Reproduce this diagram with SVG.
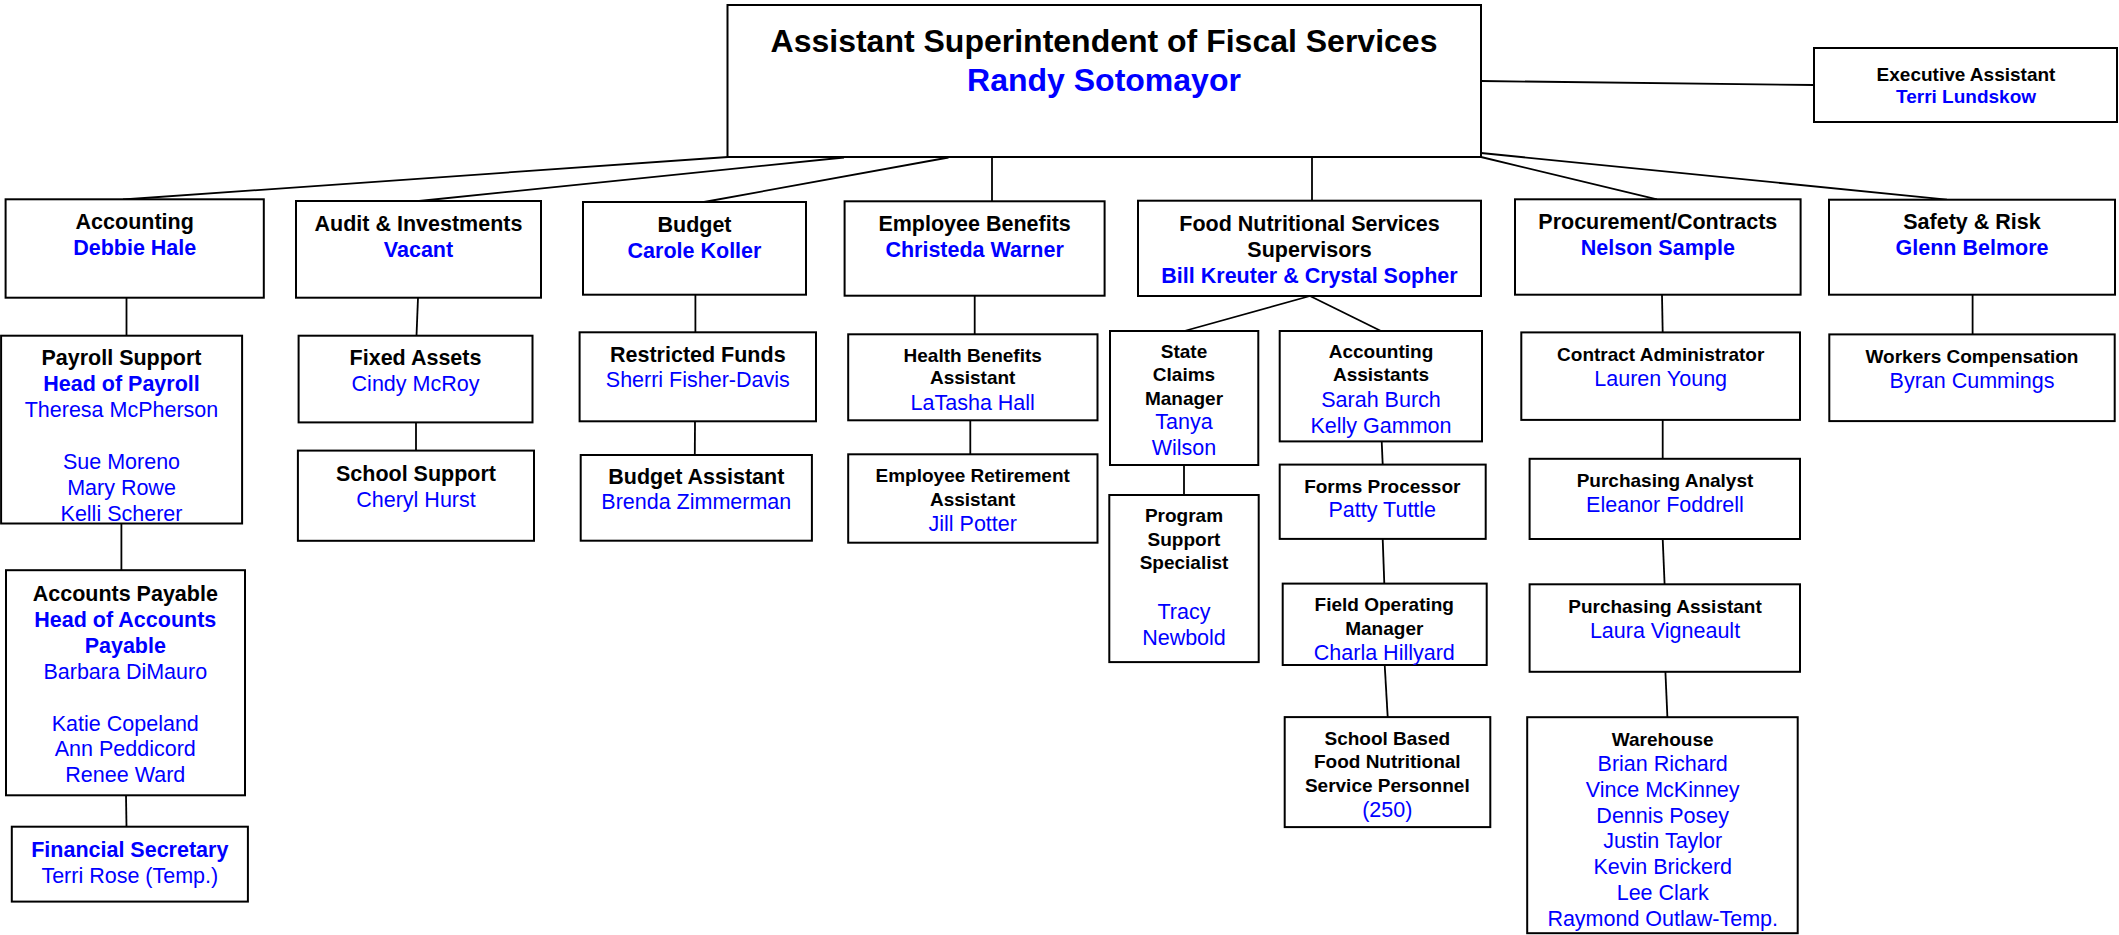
<svg xmlns="http://www.w3.org/2000/svg" width="2119" height="935" viewBox="0 0 2119 935">
<style>
.box{fill:#fff;stroke:#000;stroke-width:2}
text{font-family:"Liberation Sans",Arial,sans-serif;text-anchor:middle}
.t{font-size:32px;font-weight:bold;fill:#000}
.tb{font-size:32px;font-weight:bold;fill:#0000ff}
.h{font-size:21.5px;font-weight:bold;fill:#000}
.hs{font-size:19px;font-weight:bold;fill:#000}
.nb{font-size:21.5px;font-weight:bold;fill:#0000ff}
.nbs{font-size:19px;font-weight:bold;fill:#0000ff}
.n{font-size:21.5px;fill:#0000ff}
.c line{stroke:#000;stroke-width:1.8}
</style>
<g class="c" id="connectors">
<line x1="728" y1="157" x2="123" y2="199.5"/>
<line x1="844" y1="157.5" x2="419" y2="201"/>
<line x1="948.5" y1="157.5" x2="704" y2="202"/>
<line x1="992" y1="157" x2="992" y2="201.3"/>
<line x1="1312" y1="157" x2="1312" y2="200.7"/>
<line x1="1481" y1="157" x2="1657" y2="199.3"/>
<line x1="1481" y1="153" x2="1947" y2="199.7"/>
<line x1="1481" y1="81" x2="1814" y2="85"/>
<line x1="126.5" y1="297.7" x2="126.5" y2="335.7"/>
<line x1="121.4" y1="523.5" x2="121.4" y2="570.2"/>
<line x1="126" y1="795.3" x2="126.5" y2="826.7"/>
<line x1="418" y1="297.7" x2="416.5" y2="335.7"/>
<line x1="416" y1="422.4" x2="416" y2="450.6"/>
<line x1="695.4" y1="294.7" x2="695.4" y2="332.3"/>
<line x1="695" y1="421.3" x2="694.8" y2="455"/>
<line x1="974.7" y1="295.7" x2="974.7" y2="334.3"/>
<line x1="970.3" y1="420.3" x2="970.3" y2="454.3"/>
<line x1="1310" y1="296" x2="1184.3" y2="331"/>
<line x1="1310" y1="296" x2="1381" y2="331"/>
<line x1="1184" y1="465" x2="1184" y2="495"/>
<line x1="1381.7" y1="441.4" x2="1382.7" y2="464.6"/>
<line x1="1382.7" y1="538.9" x2="1384.3" y2="583.6"/>
<line x1="1384.7" y1="665" x2="1387.7" y2="717.1"/>
<line x1="1662" y1="294.7" x2="1662.7" y2="332.4"/>
<line x1="1662.7" y1="420" x2="1662.7" y2="458.8"/>
<line x1="1662.7" y1="539" x2="1664.6" y2="584.3"/>
<line x1="1665.4" y1="671.8" x2="1667.4" y2="717.2"/>
<line x1="1972.6" y1="294.7" x2="1972.6" y2="334.4"/>
</g>
<g id="top"><rect class="box" x="727.5" y="5" width="753.5" height="152"/>
<text class="t" x="1104" y="52">Assistant Superintendent of Fiscal Services</text>
<text class="tb" x="1104" y="91">Randy Sotomayor</text></g>
<g id="exec"><rect class="box" x="1814" y="48" width="303" height="74"/>
<text class="hs" x="1966" y="80.5">Executive Assistant</text>
<text class="nbs" x="1966" y="103">Terri Lundskow</text></g>
<g id="accounting"><rect class="box" x="5.6" y="199.3" width="258.2" height="98.4"/>
<text class="h" x="134.7" y="229.3">Accounting</text>
<text class="nb" x="134.7" y="255">Debbie Hale</text></g>
<g id="audit"><rect class="box" x="296" y="201" width="245" height="96.7"/>
<text class="h" x="418.5" y="230.7">Audit &amp; Investments</text>
<text class="nb" x="418.5" y="256.7">Vacant</text></g>
<g id="budget"><rect class="box" x="583" y="202" width="223" height="92.7"/>
<text class="h" x="694.5" y="232">Budget</text>
<text class="nb" x="694.5" y="257.7">Carole Koller</text></g>
<g id="benefits"><rect class="box" x="844.6" y="201.3" width="260" height="94.4"/>
<text class="h" x="974.6" y="230.7">Employee Benefits</text>
<text class="nb" x="974.6" y="256.7">Christeda Warner</text></g>
<g id="food"><rect class="box" x="1138" y="200.7" width="343" height="95.3"/>
<text class="h" x="1309.5" y="230.7">Food Nutritional Services</text>
<text class="h" x="1309.5" y="256.7">Supervisors</text>
<text class="nb" x="1309.5" y="283.3">Bill Kreuter &amp; Crystal Sopher</text></g>
<g id="procurement"><rect class="box" x="1515" y="199.3" width="285.6" height="95.4"/>
<text class="h" x="1657.8" y="229.3">Procurement/Contracts</text>
<text class="nb" x="1657.8" y="255">Nelson Sample</text></g>
<g id="safety"><rect class="box" x="1829" y="199.7" width="286" height="95"/>
<text class="h" x="1972" y="229.3">Safety &amp; Risk</text>
<text class="nb" x="1972" y="255">Glenn Belmore</text></g>
<g id="payroll"><rect class="box" x="1.1" y="335.7" width="241" height="187.8"/>
<text class="h" x="121.5" y="365.1">Payroll Support</text>
<text class="nb" x="121.5" y="391.4">Head of Payroll</text>
<text class="n" x="121.5" y="417.3">Theresa McPherson</text>
<text class="n" x="121.5" y="469">Sue Moreno</text>
<text class="n" x="121.5" y="494.9">Mary Rowe</text>
<text class="n" x="121.5" y="521.2">Kelli Scherer</text></g>
<g id="payable"><rect class="box" x="6" y="570.2" width="239" height="225.1"/>
<text class="h" x="125.3" y="601.2">Accounts Payable</text>
<text class="nb" x="125.3" y="627.1">Head of Accounts</text>
<text class="nb" x="125.3" y="652.9">Payable</text>
<text class="n" x="125.3" y="678.8">Barbara DiMauro</text>
<text class="n" x="125.3" y="730.6">Katie Copeland</text>
<text class="n" x="125.3" y="756.1">Ann Peddicord</text>
<text class="n" x="125.3" y="782">Renee Ward</text></g>
<g id="finsec"><rect class="box" x="11.8" y="826.7" width="236.1" height="74.9"/>
<text class="nb" x="129.8" y="857.3">Financial Secretary</text>
<text class="n" x="129.8" y="883.1">Terri Rose (Temp.)</text></g>
<g id="fixed"><rect class="box" x="298.6" y="335.7" width="233.9" height="86.7"/>
<text class="h" x="415.5" y="365.1">Fixed Assets</text>
<text class="n" x="415.5" y="391.4">Cindy McRoy</text></g>
<g id="school"><rect class="box" x="297.9" y="450.6" width="236.1" height="90.2"/>
<text class="h" x="416" y="480.8">School Support</text>
<text class="n" x="416" y="507.1">Cheryl Hurst</text></g>
<g id="restricted"><rect class="box" x="579.6" y="332.3" width="236.4" height="89"/>
<text class="h" x="697.8" y="361.7">Restricted Funds</text>
<text class="n" x="697.8" y="387.3">Sherri Fisher-Davis</text></g>
<g id="budgetasst"><rect class="box" x="580.7" y="455" width="231.2" height="85.7"/>
<text class="h" x="696.3" y="484.3">Budget Assistant</text>
<text class="n" x="696.3" y="509.3">Brenda Zimmerman</text></g>
<g id="health"><rect class="box" x="848.2" y="334.3" width="249.3" height="86"/>
<text class="hs" x="972.7" y="361.7">Health Benefits</text>
<text class="hs" x="972.7" y="384.3">Assistant</text>
<text class="n" x="972.7" y="410">LaTasha Hall</text></g>
<g id="retire"><rect class="box" x="848.2" y="454.3" width="249.3" height="88.4"/>
<text class="hs" x="972.7" y="481.7">Employee Retirement</text>
<text class="hs" x="972.7" y="505.7">Assistant</text>
<text class="n" x="972.7" y="530.7">Jill Potter</text></g>
<g id="claims"><rect class="box" x="1110" y="331" width="148.3" height="134"/>
<text class="hs" x="1184" y="357.9">State</text>
<text class="hs" x="1184" y="381.4">Claims</text>
<text class="hs" x="1184" y="405.4">Manager</text>
<text class="n" x="1184" y="429.3">Tanya</text>
<text class="n" x="1184" y="455.4">Wilson</text></g>
<g id="program"><rect class="box" x="1109.3" y="495" width="149.4" height="167.1"/>
<text class="hs" x="1184" y="522.1">Program</text>
<text class="hs" x="1184" y="546.4">Support</text>
<text class="hs" x="1184" y="568.9">Specialist</text>
<text class="n" x="1184" y="618.9">Tracy</text>
<text class="n" x="1184" y="645.4">Newbold</text></g>
<g id="acctasst"><rect class="box" x="1279.7" y="331" width="202.3" height="110.4"/>
<text class="hs" x="1381" y="357.9">Accounting</text>
<text class="hs" x="1381" y="381.4">Assistants</text>
<text class="n" x="1381" y="407.1">Sarah Burch</text>
<text class="n" x="1381" y="432.9">Kelly Gammon</text></g>
<g id="forms"><rect class="box" x="1279.7" y="464.6" width="206" height="74.3"/>
<text class="hs" x="1382.3" y="492.9">Forms Processor</text>
<text class="n" x="1382.3" y="517.1">Patty Tuttle</text></g>
<g id="field"><rect class="box" x="1282.7" y="583.6" width="204" height="81.4"/>
<text class="hs" x="1384.3" y="611.4">Field Operating</text>
<text class="hs" x="1384.3" y="635">Manager</text>
<text class="n" x="1384.3" y="660">Charla Hillyard</text></g>
<g id="schoolbased"><rect class="box" x="1284.7" y="717.1" width="205.6" height="110"/>
<text class="hs" x="1387.3" y="745">School Based</text>
<text class="hs" x="1387.3" y="767.9">Food Nutritional</text>
<text class="hs" x="1387.3" y="791.8">Service Personnel</text>
<text class="n" x="1387.3" y="817.1">(250)</text></g>
<g id="contract"><rect class="box" x="1521.3" y="332.4" width="278.7" height="87.5"/>
<text class="hs" x="1660.7" y="360.8">Contract Administrator</text>
<text class="n" x="1660.7" y="386.3">Lauren Young</text></g>
<g id="analyst"><rect class="box" x="1529.6" y="458.8" width="270.4" height="80.2"/>
<text class="hs" x="1665" y="487.1">Purchasing Analyst</text>
<text class="n" x="1665" y="512.2">Eleanor Foddrell</text></g>
<g id="purchasst"><rect class="box" x="1529.6" y="584.3" width="270.4" height="87.5"/>
<text class="hs" x="1665" y="612.7">Purchasing Assistant</text>
<text class="n" x="1665" y="638.2">Laura Vigneault</text></g>
<g id="warehouse"><rect class="box" x="1527.2" y="717.2" width="270.5" height="216"/>
<text class="hs" x="1662.7" y="745.5">Warehouse</text>
<text class="n" x="1662.7" y="770.6">Brian Richard</text>
<text class="n" x="1662.7" y="796.5">Vince McKinney</text>
<text class="n" x="1662.7" y="822.5">Dennis Posey</text>
<text class="n" x="1662.7" y="848.4">Justin Taylor</text>
<text class="n" x="1662.7" y="874.3">Kevin Brickerd</text>
<text class="n" x="1662.7" y="900.2">Lee Clark</text>
<text class="n" x="1662.7" y="926.2">Raymond Outlaw-Temp.</text></g>
<g id="workers"><rect class="box" x="1829.3" y="334.4" width="285.4" height="86.7"/>
<text class="hs" x="1972" y="362.8">Workers Compensation</text>
<text class="n" x="1972" y="388.3">Byran Cummings</text></g>
</svg>
